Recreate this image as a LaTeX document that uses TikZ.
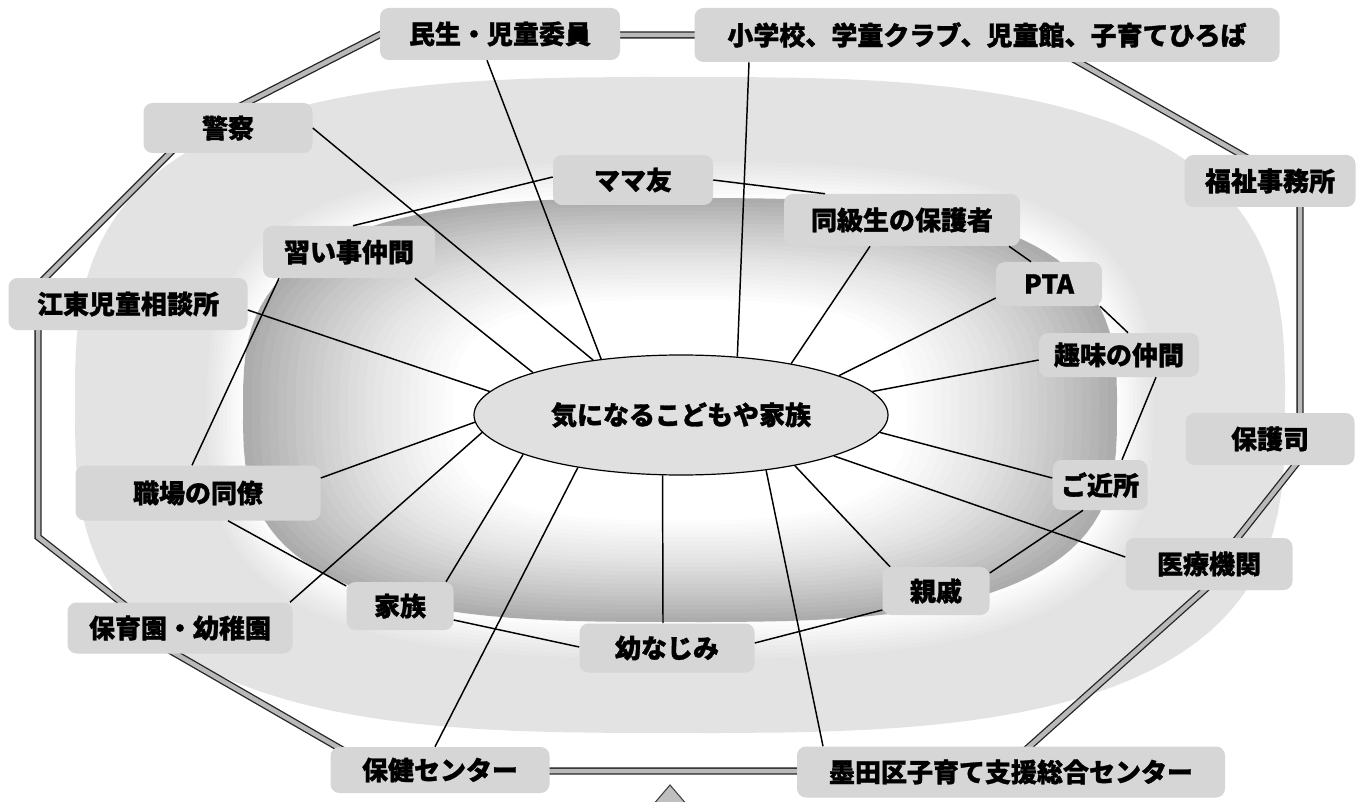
\documentclass[tikz,border=0pt]{standalone}
\usepackage{fontspec}
\newfontfamily\jp{Noto Sans CJK JP}[BoldFeatures={FakeBold=1.2}]
\usetikzlibrary{calc,shapes.geometric}
\newdimen\pxu \pxu=0.75pt
% superellipse path: center x, center y, half width, half height
\newcommand\supell[4]{plot[domain=1:361, samples=121, variable=\t]
  ({#1+(#3)*sign(cos(\t))*abs(cos(\t))^(0.6667)}, {#2-(#4)*sign(sin(\t))*abs(sin(\t))^(0.6667)}) -- cycle}
\begin{document}
\begin{tikzpicture}[x=0.75pt, y=-0.75pt,
  box/.style={fill=gray!32, rounded corners=9\pxu, inner sep=0pt, text=black,
    font=\jp\bfseries\fontsize{19.5}{22}\selectfont},
  hub/.style={ellipse, fill=gray!24, draw=black, line width=0.9pt, inner sep=0pt,
    text=black, font=\jp\bfseries\fontsize{19.5}{22}\selectfont},
  link/.style={line width=1.1pt, draw=black},
  frame/.style={draw=black!85, line width=1pt, double=gray!55, double distance=4.5\pxu, line join=miter}]
\useasboundingbox (0,0) rectangle (1359,802);
\fill[white] (0,0) rectangle (1359,802);
% outer light region
\fill[gray!22] \supell{680}{405}{605}{328};
% white halo round the inner ring
\foreach \d in {40,36,...,0} {
  \pgfmathsetmacro\pp{22*\d/40}
  \fill[gray!\pp] \supell{680}{410}{437+\d}{212+\d};
}
% shaded inner ring (dark rim, white centre)
\foreach \s in {1.00,0.98,...,0.50} {
  \pgfmathsetmacro\pp{\s>=0.88 ? 45+(\s-0.88)/0.12*20 : (\s>=0.72 ? 22+(\s-0.72)/0.16*23 : max(0,22*(\s-0.52)/0.2))}
  \fill[gray!\pp] \supell{680}{410}{437*\s}{212*\s};
}
% frame corners
\coordinate (f0) at (430,35);
\coordinate (f1) at (395,27);
\coordinate (f2) at (213,120);
\coordinate (f3) at (188,135);
\coordinate (f4) at (38,285);
\coordinate (f5) at (38,537);
\coordinate (f6) at (140,617);
\coordinate (f7) at (157,643);
\coordinate (f8) at (379,771);
\coordinate (f9) at (1002,771);
\coordinate (f10) at (1210,585);
\coordinate (f11) at (1232,545);
\coordinate (f12) at (1300,459);
\coordinate (f13) at (1300,188);
\coordinate (f14) at (1031,35);
\draw[frame] (f0) -- (f1) -- (f2) -- (f3) -- (f4) -- (f5) -- (f6) -- (f7) -- (f8) -- (f9)
  -- (f10) -- (f11) -- (f12) -- (f13) -- (f14) -- cycle;
% bottom arrow head
\filldraw[fill=gray!50, draw=black!75, line width=0.8pt] (652,806) -- (670,785) -- (688,806);
% nodes
\node[hub, minimum width=414\pxu, minimum height=120\pxu] (ce) at (681,415) {気になるこどもや家族};
\node[box, minimum width=240\pxu, minimum height=52\pxu] (minsei) at (500,34) {民生・児童委員};
\node[box, minimum width=585\pxu, minimum height=54\pxu] (shogakko) at (987,35) {小学校、学童クラブ、児童館、子育てひろば};
\node[box, minimum width=169\pxu, minimum height=50\pxu] (keisatsu) at (228,128) {警察};
\node[box, minimum width=171\pxu, minimum height=52\pxu] (fukushi) at (1270,181) {福祉事務所};
\node[box, minimum width=160\pxu, minimum height=50\pxu] (mama) at (633,180) {ママ友};
\node[box, minimum width=236\pxu, minimum height=52\pxu] (doukyu) at (902,220) {同級生の保護者};
\node[box, minimum width=172\pxu, minimum height=52\pxu] (narai) at (349,252) {習い事仲間};
\node[box, minimum width=239\pxu, minimum height=52\pxu] (koto) at (128,304) {江東児童相談所};
\node[box, minimum width=106\pxu, minimum height=44\pxu] (pta) at (1049,284) {PTA};
\node[box, minimum width=160\pxu, minimum height=44\pxu] (shumi) at (1119,355) {趣味の仲間};
\node[box, minimum width=169\pxu, minimum height=52\pxu] (hogoshi) at (1270,439) {保護司};
\node[box, minimum width=95\pxu, minimum height=50\pxu] (kinjo) at (1100,485) {ご近所};
\node[box, minimum width=245\pxu, minimum height=55\pxu] (shokuba) at (198,493) {職場の同僚};
\node[box, minimum width=167\pxu, minimum height=52\pxu] (iryo) at (1209,564) {医療機関};
\node[box, minimum width=107\pxu, minimum height=48\pxu] (shinseki) at (936,591) {親戚};
\node[box, minimum width=107\pxu, minimum height=48\pxu] (kazoku) at (400,606) {家族};
\node[box, minimum width=225\pxu, minimum height=51\pxu] (hoikuen) at (180,628) {保育園・幼稚園};
\node[box, minimum width=175\pxu, minimum height=49\pxu] (osana) at (667,648) {幼なじみ};
\node[box, minimum width=219\pxu, minimum height=46\pxu] (hoken) at (440,770) {保健センター};
\node[box, minimum width=428\pxu, minimum height=51\pxu] (sumida) at (1011,772) {墨田区子育て支援総合センター};
% connectors to the hub
\draw[link] (keisatsu.east) -- (ce.148);
\draw[link] (487,0 |- minsei.south) -- (ce.145);
\draw[link] (749,0 |- shogakko.south) -- (ce.46);
\draw[link] (415,0 |- narai.south) -- (ce.164);
\draw[link] (koto.east |- 0,310) -- (ce.173);
\draw[link] (870,0 |- doukyu.south) -- (ce.25);
\draw[link] (pta.west |- 0,298) -- (ce.14);
\draw[link] (shumi.west |- 0,360) -- (ce.7);
\draw[link] (ce.355) -- (kinjo.west |- 0,478);
\draw[link] (ce.345) -- (iryo.west |- 0,557);
\draw[link] (ce.336) -- (890,0 |- shinseki.north);
\draw[link] (ce.327) -- (823,0 |- sumida.north);
\draw[link] (ce.253) -- (663,0 |- osana.north);
\draw[link] (ce.207) -- (435,0 |- hoken.north);
\draw[link] (ce.194) -- (446,0 |- kazoku.north);
\draw[link] (ce.185) -- (290,0 |- hoikuen.north);
\draw[link] (ce.182) -- (shokuba.east |- 0,478);
% connectors between the circles
\draw[link] (mama.west |- 0,177) -- (353,0 |- narai.north);
\draw[link] (279,0 |- narai.south) -- (192,0 |- shokuba.north);
\draw[link] (mama.east) -- (825,0 |- doukyu.north);
\draw[link] (1009,0 |- doukyu.south) -- (1031,0 |- pta.north);
\draw[link] (1100,0 |- pta.south) -- (1128,0 |- shumi.north);
\draw[link] (1156,0 |- shumi.south) -- (1122,0 |- kinjo.north);
\draw[link] (1083,0 |- kinjo.south) -- (shinseki.east |- 0,573);
\draw[link] (osana.east |- 0,643) -- (shinseki.west |- 0,610);
\draw[link] (228,0 |- shokuba.south) -- (kazoku.west |- 0,586);
\draw[link] (kazoku.east |- 0,620) -- (osana.west |- 0,647);
\end{tikzpicture}
\end{document}
